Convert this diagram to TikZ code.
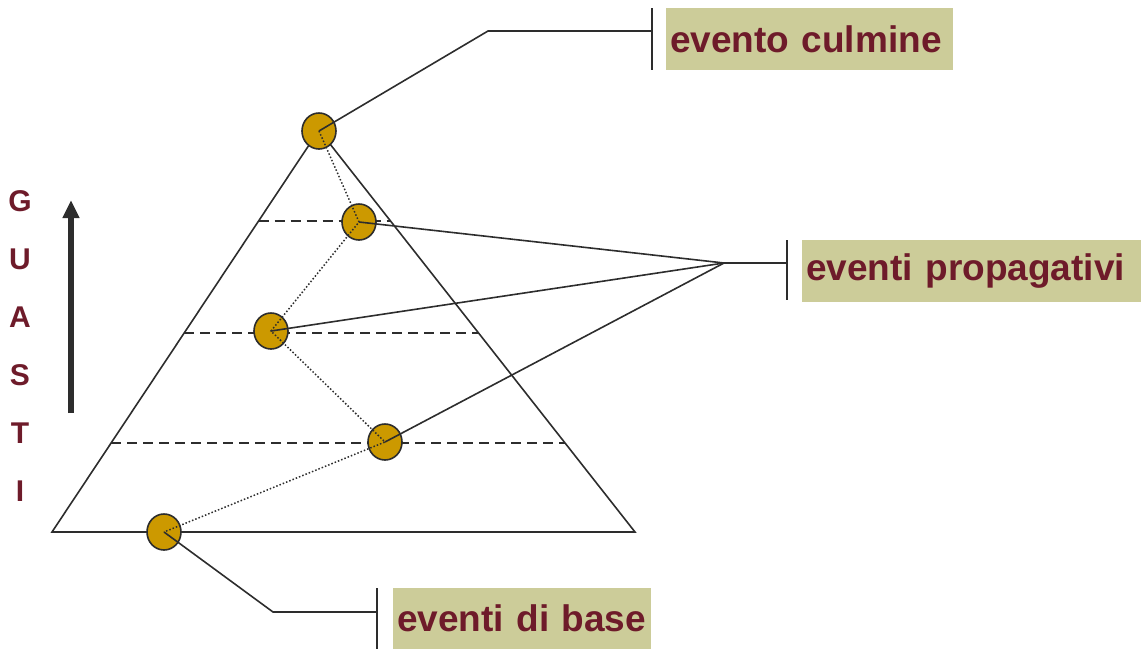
\documentclass[tikz,border=0pt]{standalone}
\usepackage{fontspec}
\setmainfont{Liberation Sans}
\usetikzlibrary{arrows.meta,calc}
\definecolor{oro}{RGB}{204,153,0}
\definecolor{sabbia}{RGB}{204,204,153}
\definecolor{bordeaux}{RGB}{110,27,42}
\definecolor{grafite}{RGB}{45,45,45}
\tikzset{
  filo/.style={draw=grafite, line width=1.6pt},
  livello/.style={filo, dash pattern=on 10pt off 6pt},
  percorso/.style={draw=grafite, line width=1.5pt, dash pattern=on 1.5pt off 2pt},
  evento/.style={draw=grafite, line width=1.6pt, fill=oro, ellipse, minimum width=34pt, minimum height=36pt, inner sep=0pt},
  etichetta/.style={fill=sabbia, anchor=north west, text=bordeaux, font=\fontsize{37}{40}\selectfont\bfseries, minimum height=62pt, text width=#1, inner xsep=4pt, align=left},
  lettera/.style={text=bordeaux, font=\fontsize{30}{30}\selectfont\bfseries},
}
\usetikzlibrary{shapes.geometric}
\begin{document}
\begin{tikzpicture}[x=1pt,y=-1pt]
    \useasboundingbox (0,0) rectangle (1141,649);

    % Triangle
    \coordinate (apice) at (319,130);
    \coordinate (bsx) at (52,532);
    \coordinate (bdx) at (635,532);
    \draw[filo] (bsx) -- (apice) -- (bdx) -- cycle;

    % Levels
    \foreach \t in {0.774, 0.495, 0.221}
        \draw[livello] ($(bsx)!\t!(apice)$) -- ($(bdx)!\t!(apice)$);

    % Events
    \node[evento] (e1) at (319,131) {};
    \node[evento] (e2) at (359,222) {};
    \node[evento] (e3) at (271,331) {};
    \node[evento] (e4) at (385,442) {};
    \node[evento] (e5) at (164,532) {};
    \draw[percorso] (e1.center) -- (e2.center) -- (e3.center) -- (e4.center) -- (e5.center);

    % Labels
    \node[etichetta=279pt] (culmine) at (666,8) {evento culmine};
    \node[etichetta=331pt] (propag) at (802,240) {eventi propagativi};
    \node[etichetta=250pt, minimum height=61pt] (base) at (393,588) {eventi di base};

    % Ticks
    \draw[filo] ([xshift=-14pt]culmine.north west) -- ([xshift=-14pt]culmine.south west);
    \draw[filo] ([xshift=-15pt]propag.north west) -- ([xshift=-15pt,yshift=2pt]propag.south west);
    \draw[filo] ([xshift=-16pt]base.north west) -- ([xshift=-16pt]base.south west);

    % Connectors
    \coordinate (gc) at (488,31);
    \coordinate (gp) at (724,263);
    \coordinate (gb) at (273,612);
    \draw[filo] (e1.center) -- (gc) -- (gc -| {$(culmine.west)+(-14,0)$});
    \draw[filo] (e2.center) -- (gp);
    \draw[filo] (e3.center) -- (gp);
    \draw[filo] (e4.center) -- (gp);
    \draw[filo] (gp) -- (gp -| {$(propag.west)+(-15,0)$});
    \draw[filo] (e5.center) -- (gb) -- (gb -| {$(base.west)+(-16,0)$});

    % Arrow
    \coordinate (fbase) at (71,413);
    \coordinate (fpunta) at (71,200);
    \draw[grafite, line width=5.5pt, -{Triangle[length=18pt,width=16pt]}] (fbase) -- (fpunta);

    % Letters
    \foreach \l [count=\i] in {G,U,A,S,T,I}
        \node[lettera] (l\i) at (20,{143+58*\i}) {\l};
\end{tikzpicture}
\end{document}
